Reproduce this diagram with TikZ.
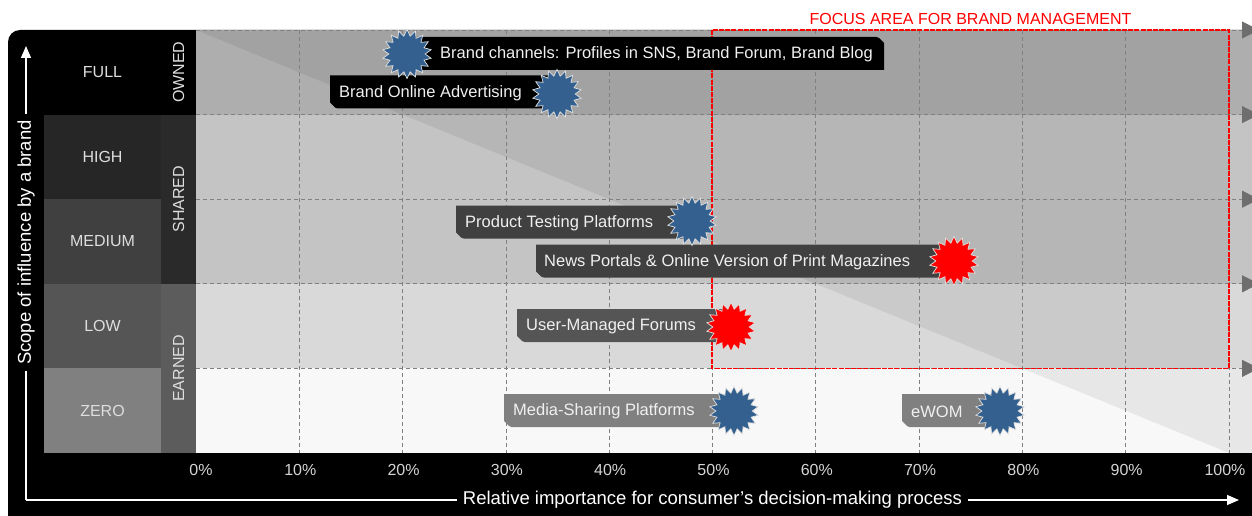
\documentclass[tikz,border=0pt]{standalone}
\usepackage{fontspec}
\setmainfont{Liberation Sans}
\usetikzlibrary{shapes.geometric,arrows.meta}
\definecolor{starblue}{HTML}{34608F}
\definecolor{starred}{HTML}{FF0000}
\definecolor{rowfull}{HTML}{AEAEAE}
\definecolor{rowmid}{HTML}{C4C4C4}
\definecolor{rowlow}{HTML}{D9D9D9}
\definecolor{rowzero}{HTML}{F8F8F8}
\definecolor{lvhigh}{HTML}{262626}
\definecolor{lvmed}{HTML}{404040}
\definecolor{lvlow}{HTML}{555555}
\definecolor{lvzero}{HTML}{808080}
\definecolor{catshared}{HTML}{2A2A2A}
\definecolor{catearned}{HTML}{5C5C5C}
\definecolor{gridgrey}{HTML}{808080}
\definecolor{tipgrey}{HTML}{6E6E6E}
\definecolor{labelgrey}{HTML}{DEDEDE}
\definecolor{pctgrey}{HTML}{D4D4D4}
\newcommand\mkboxSW[5]{% left, right, centre y, fill, name
  \fill[#4, rounded corners=1.5pt] (#1,#3-16.5) -- (#2,#3-16.5) -- (#2,#3+16.5) -- (#1+6,#3+16.5) [sharp corners] -- (#1,#3+10.5) -- cycle;}
\newcommand\mkboxNE[5]{%
  \fill[#4, rounded corners=1.5pt] (#1,#3-16.5) -- (#2-6,#3-16.5) [sharp corners] -- (#2,#3-10.5) -- (#2,#3+16.5) -- (#1,#3+16.5) -- cycle;}
\begin{document}
\begin{tikzpicture}[x=1pt,y=-1pt,
  lvcell/.style={minimum width=117pt, minimum height=84.6pt, inner sep=0pt, text=labelgrey, font=\fontsize{16}{19}\selectfont},
  catcell/.style={minimum width=35pt, inner sep=0pt, text=labelgrey, font=\fontsize{16}{19}\selectfont},
  catlabel/.style={rotate=90, text=labelgrey, font=\fontsize{16}{19}\selectfont, inner sep=0pt},
  gridline/.style={gridgrey, line width=0.8pt, dash pattern=on 4pt off 3pt},
  rowarrow/.style={gridline, -{Triangle[length=17pt,width=17pt,fill=tipgrey,color=tipgrey]}},
  pct/.style={text=pctgrey, font=\fontsize{16}{19}\selectfont, inner sep=0pt},
  axisline/.style={white, line width=1.1pt, -{Triangle[length=12pt,width=10pt]}},
  axislabel/.style={fill=black, text=white, font=\fontsize{18.5}{22}\selectfont, inner xsep=6pt, inner ysep=2pt},
  boxtext/.style={anchor=west, text=white!94!black, font=\fontsize{16.5}{19}\selectfont, inner sep=0pt},
  burst/.style={star, star points=18, star point ratio=1.35, minimum size=49pt, inner sep=0pt, draw=white!88!black, line width=0.7pt},
  focusbox/.style={red, line width=1.2pt, dash pattern=on 5pt off 1.2pt}
]
\useasboundingbox (0,0) rectangle (1252,516);
\clip (0,0) rectangle (1252,516);
% panel
\fill[black, rounded corners=12pt] (8,30) rectangle (1290,560);
% chart rows
\fill[rowfull] (196,30) rectangle (1252,114.6);
\fill[rowmid] (196,114.6) rectangle (1252,283.8);
\fill[rowlow] (196,283.8) rectangle (1252,368.4);
\fill[rowzero] (196,368.4) rectangle (1252,453);
\fill[black, opacity=0.065] (196,30) -- (1229,30) -- (1229,453) -- cycle;
\fill[rowzero!93!black] (1229,368.4) rectangle (1252,453);
% level cells
\node[lvcell, fill=black] (full) at (102.5,72.3) {FULL};
\node[lvcell, fill=lvhigh] (high) at (102.5,156.9) {HIGH};
\node[lvcell, fill=lvmed] (medium) at (102.5,241.5) {MEDIUM};
\node[lvcell, fill=lvlow] (low) at (102.5,326.1) {LOW};
\node[lvcell, fill=lvzero] (zero) at (102.5,410.7) {ZERO};
% category cells
\node[catcell, fill=black, minimum height=84.6pt] (owned) at (178.5,72.3) {};
\node[catcell, fill=catshared, minimum height=169.2pt] (shared) at (178.5,199.2) {};
\node[catcell, fill=catearned, minimum height=169.2pt] (earned) at (178.5,368.4) {};
\node[catlabel] (ownedl) at (178.5,72.3) {OWNED};
\node[catlabel] (sharedl) at (178.5,199.2) {SHARED};
\node[catlabel] (earnedl) at (178.5,368.4) {EARNED};
% grid
\foreach \k in {1,...,10} {
  \draw[gridline] (196+\k*103.3,30) -- (196+\k*103.3,453);
}
\foreach \yy in {30,114.6,199.2,283.8,368.4} {
  \coordinate (rs) at (196,\yy);
  \coordinate (re) at (1259,\yy);
  \draw[rowarrow] (rs) -- (re);
}
% focus area
\draw[focusbox] (712,30) rectangle (1229,368.4);
\node[text=red, font=\fontsize{16}{19}\selectfont, inner sep=0pt] (focus) at (970.5,18.5) {FOCUS AREA FOR BRAND MANAGEMENT};
% percent labels
\node[pct] (p0) at (201,469.5) {0\%};
\foreach \k/\lab in {1/10,2/20,3/30,4/40,5/50,6/60,7/70,8/80,9/90} {
  \node[pct] (p\k) at (196+\k*103.3+1,469.5) {\lab\%};
}
\node[pct] (p10) at (1225,469.5) {100\%};
% axes
\coordinate (origin) at (26,500);
\coordinate (ytip) at (26,46);
\coordinate (xtip) at (1239,500);
\draw[axisline] (origin) -- (ytip);
\draw[axisline] (origin) -- (xtip);
\node[axislabel, rotate=90] (ylab) at (26,242.5) {Scope of influence by a brand};
\node[axislabel] (xlab) at (712.5,500) {Relative importance for consumer’s decision-making process};
% callout boxes
\mkboxNE{407}{884}{53.5}{black}{b1}
\mkboxSW{330}{557}{92}{black}{b2}
\mkboxSW{456}{692}{222}{lvmed}{b3}
\mkboxSW{536}{954}{261}{lvmed}{b4}
\mkboxSW{517}{731}{325.5}{lvlow}{b5}
\mkboxSW{504}{734}{410.5}{lvzero}{b6}
\mkboxSW{902}{1000}{410.5}{lvzero}{b7}
\node[boxtext] (t1) at (440,54) {Brand channels: Profiles in SNS, Brand Forum, Brand Blog};
\node[boxtext] (t2) at (339,93) {Brand Online Advertising};
\node[boxtext] (t3) at (465,223) {Product Testing Platforms};
\node[boxtext] (t4) at (544,262) {News Portals \& Online Version of Print Magazines};
\node[boxtext] (t5) at (526,326.5) {User-Managed Forums};
\node[boxtext] (t6) at (513,411.5) {Media-Sharing Platforms};
\node[boxtext] (t7) at (911,411.5) {eWOM};
% stars
\node[burst, fill=starblue] (s1) at (407,54) {};
\node[burst, fill=starblue] (s2) at (557,94) {};
\node[burst, fill=starblue] (s3) at (692,221) {};
\node[burst, fill=starred] (s4) at (954,261) {};
\node[burst, fill=starred] (s5) at (731,327) {};
\node[burst, fill=starblue] (s6) at (734,411) {};
\node[burst, fill=starblue] (s7) at (1000,411) {};
\end{tikzpicture}
\end{document}
